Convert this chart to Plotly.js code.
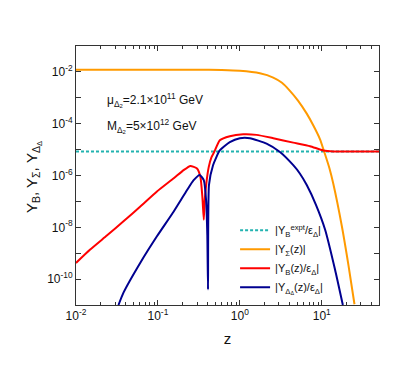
<!DOCTYPE html>
<html>
<head>
<meta charset="utf-8">
<script src="https://cdn.plot.ly/plotly-3.0.1.min.js"></script>
<style>
  html, body { margin: 0; padding: 0; background: #fff; }
  #plot { width: 409px; height: 382px; }
</style>
</head>
<body>
<div id="plot"></div>
<script>
// values
const zExpt = [0.01, 50];
const yExpt = [8.5e-6, 8.5e-6];

const zSigma = [0.01, 0.1, 0.3, 0.6, 1.0, 1.757, 2.557, 3.27, 4.09, 5.13, 6.56, 7.9, 9.53, 10.67, 12.41, 13.86, 17.56, 21.2, 25.1];
const ySigma = [1.2e-2, 1.22e-2, 1.22e-2, 1.18e-2, 1.1e-2, 8.8e-3, 6.05e-3, 3.8e-3, 1.86e-3, 7.8e-4, 2.45e-4, 8.5e-5, 2.5e-5, 8.6e-6, 1.9e-6, 4.7e-7, 1.15e-8, 3.4e-10, 1.07e-11];

const zB = [0.01, 0.0149, 0.0238, 0.038, 0.061, 0.0973, 0.156, 0.206, 0.249, 0.30, 0.33, 0.349, 0.363,
            0.373, 0.39, 0.417, 0.45, 0.49, 0.57, 0.755, 1.1, 1.6, 2.56, 4.49, 7.2, 10.4, 13.9, 50];
const yB = [4.2e-10, 1.38e-9, 4.8e-9, 1.7e-8, 6.3e-8, 2.4e-7, 7.8e-7, 1.62e-6, 2.35e-6, 1.86e-6, 8.9e-7, 1.5e-7, 1.95e-8,
            1.15e-7, 5e-7, 2.1e-6, 5e-6, 8.5e-6, 2.3e-5, 3.3e-5, 3.9e-5, 3.7e-5, 2.75e-5, 1.86e-5, 1.35e-5, 9.3e-6, 8.5e-6, 8.5e-6];

const zD = [0.033, 0.038, 0.061, 0.0973, 0.156, 0.227, 0.273, 0.324, 0.363, 0.387, 0.401, 0.409,
            0.42, 0.471, 0.569, 0.755, 1.0, 1.33, 2.12, 3.09, 4.49, 5.4, 6.56, 8.5, 11, 14.5, 18.1];
const yD = [1e-11, 3e-11, 4.3e-10, 4.5e-9, 4.1e-8, 2.75e-7, 6.6e-7, 1.05e-6, 6.6e-7, 1.15e-7, 5e-9, 4e-11,
            4.3e-7, 2.5e-6, 9.3e-6, 1.95e-5, 2.75e-5, 2.75e-5, 1.7e-5, 8.1e-6, 2.5e-6, 1.2e-6, 4.3e-7, 7.4e-8, 8.1e-9, 2.4e-10, 1e-11];

const xTickVals = [0.01, 0.1, 1, 10];
const xTickText = ["10<sup>-2</sup>", "10<sup>-1</sup>", "10<sup>0</sup>", "10<sup>1</sup>"];
const yTickVals = [1e-2, 1e-4, 1e-6, 1e-8, 1e-10];
const yTickText = ["10<sup>-2</sup>", "10<sup>-4</sup>", "10<sup>-6</sup>", "10<sup>-8</sup>", "10<sup>-10</sup>"];

// minor tick positions
const xMinor = [];
[0.01, 0.1, 1, 10].forEach(d => { for (let k = 2; k <= 9; k++) xMinor.push(d * k); });
const yMinor = [1e-1, 1e-3, 1e-5, 1e-7, 1e-9, 1e-11];

const font = "Liberation Sans, Arial, sans-serif";

const traces = [
  { x: zExpt, y: yExpt, mode: "lines", name: "|Y<sub>B</sub><sup>expt</sup>/ε<sub>Δ</sub>|",
    line: { color: "#22b3b0", width: 2, dash: "3px,2px" } },
  { x: zSigma, y: ySigma, mode: "lines", name: "|Y<sub>Σ</sub>(z)|",
    line: { color: "#ff9a00", width: 2, shape: "spline", smoothing: 0.6 } },
  { x: zB, y: yB, mode: "lines", name: "|Y<sub>B</sub>(z)/ε<sub>Δ</sub>|",
    line: { color: "#ff0000", width: 2, shape: "spline", smoothing: 0.5 } },
  { x: zD, y: yD, mode: "lines", name: "|Y<sub>Δ<sub>Δ</sub></sub>(z)/ε<sub>Δ</sub>|",
    line: { color: "#000090", width: 2, shape: "spline", smoothing: 0.5 } }
];

const layout = {
  width: 409, height: 382,
  margin: { l: 76, r: 30, t: 46, b: 77 },
  paper_bgcolor: "#fff", plot_bgcolor: "#fff",
  font: { family: font, size: 12, color: "#111" },
  showlegend: true,
  legend: {
    x: 0.525, y: 0.345, xanchor: "left", yanchor: "top",
    bgcolor: "rgba(0,0,0,0)", font: { size: 11 }, tracegroupgap: 0
  },
  xaxis: {
    type: "log", range: [-2, Math.log10(50)],
    tickmode: "array", tickvals: xTickVals, ticktext: xTickText,
    ticks: "inside", ticklen: 5, tickcolor: "#333",
    minor: { tickmode: "array", tickvals: xMinor, ticks: "inside", ticklen: 3, tickcolor: "#333" },
    showline: true, linecolor: "#333", linewidth: 1, mirror: "ticks",
    showgrid: false, zeroline: false,
    tickfont: { size: 12 },
    title: { text: "z", font: { size: 15 }, standoff: 11 }
  },
  yaxis: {
    type: "log", range: [-11, -1],
    tickmode: "array", tickvals: yTickVals, ticktext: yTickText,
    ticks: "inside", ticklen: 5, tickcolor: "#333",
    minor: { tickmode: "array", tickvals: yMinor, ticks: "inside", ticklen: 5, tickcolor: "#333" },
    showline: true, linecolor: "#333", linewidth: 1, mirror: "ticks",
    showgrid: false, zeroline: false,
    tickfont: { size: 12 }
  },
  annotations: [
    // y axis title, placed by hand closer to the tick labels
    { xref: "paper", yref: "paper", x: -0.142, y: 0.494, xanchor: "center", yanchor: "middle",
      textangle: -90, showarrow: false,
      text: "Y<sub>B</sub>, Y<sub>Σ</sub>, Y<sub>Δ<sub>Δ</sub></sub>", font: { size: 15 } },
    { xref: "paper", yref: "paper", x: 0.095, y: 0.79, xanchor: "left", yanchor: "middle", showarrow: false,
      text: "μ<sub>Δ<sub>2</sub></sub>=2.1×10<sup>11</sup> GeV", font: { size: 12 } },
    { xref: "paper", yref: "paper", x: 0.095, y: 0.69, xanchor: "left", yanchor: "middle", showarrow: false,
      text: "M<sub>Δ<sub>2</sub></sub>=5×10<sup>12</sup> GeV", font: { size: 12 } }
  ]
};

Plotly.newPlot("plot", traces, layout, { displayModeBar: false, staticPlot: true });
</script>
</body>
</html>
